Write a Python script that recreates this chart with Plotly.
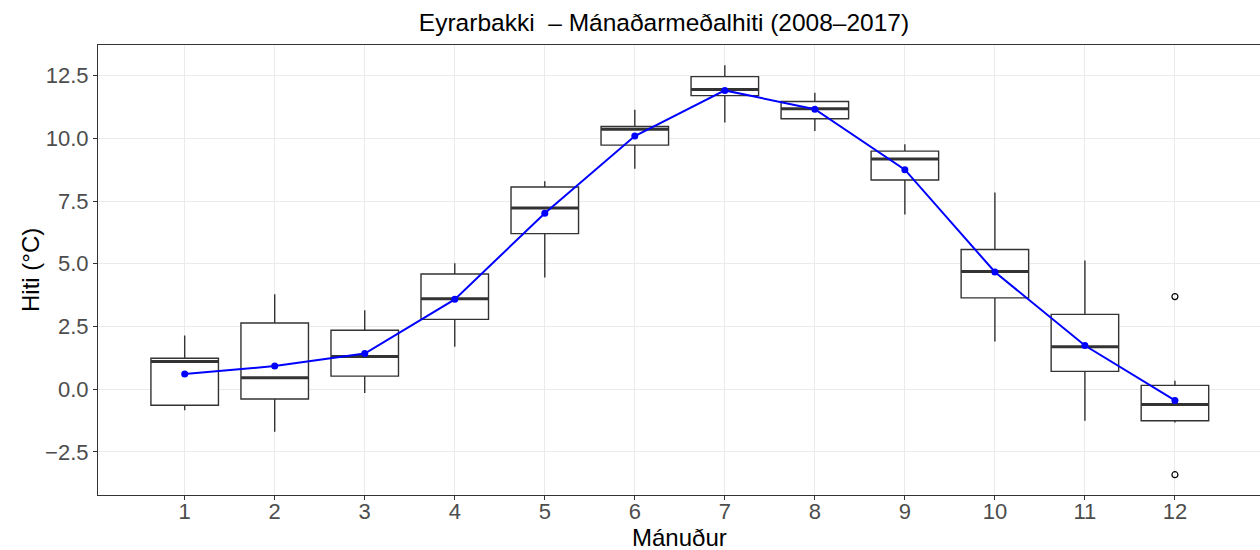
import plotly.graph_objects as go

# month numbers and box statistics
months = [1, 2, 3, 4, 5, 6, 7, 8, 9, 10, 11, 12]
q1 = [-0.64, -0.39, 0.52, 2.78, 6.20, 9.73, 11.70, 10.78, 8.34, 3.64, 0.71, -1.26]
median = [1.10, 0.45, 1.30, 3.60, 7.22, 10.36, 11.95, 11.18, 9.18, 4.69, 1.69, -0.61]
q3 = [1.23, 2.64, 2.35, 4.59, 8.06, 10.47, 12.46, 11.47, 9.49, 5.57, 2.98, 0.15]
low = [-0.84, -1.70, -0.15, 1.69, 4.45, 8.79, 10.63, 10.29, 6.96, 1.90, -1.26, -1.33]
high = [2.14, 3.78, 3.15, 5.02, 8.29, 11.14, 12.91, 11.82, 9.76, 7.84, 5.13, 0.33]
means = [0.60, 0.92, 1.42, 3.58, 7.01, 10.09, 11.91, 11.16, 8.75, 4.67, 1.74, -0.45]

out_month = [12, 12]
out_value = [3.69, -3.41]

yticks = [-2.5, 0.0, 2.5, 5.0, 7.5, 10.0, 12.5]

font = "Liberation Sans, Arial, sans-serif"
dark = "#333333"

fig = go.Figure()

fig.add_trace(go.Box(
    x=months, q1=q1, median=median, q3=q3, lowerfence=low, upperfence=high,
    width=0.75, whiskerwidth=0, boxpoints=False,
    fillcolor="white", line=dict(color=dark, width=1.4), showlegend=False))

# thicker median bars like ggplot (line-ew spans 2.8 * size/2)
fig.add_trace(go.Scatter(
    x=months, y=median, mode="markers", showlegend=False, hoverinfo="skip",
    marker=dict(symbol="line-ew", size=48, line=dict(color=dark, width=3))))

fig.add_trace(go.Scatter(
    x=out_month, y=out_value, mode="markers", showlegend=False,
    marker=dict(symbol="circle-open", size=6, color="black", line=dict(width=1.2))))

fig.add_trace(go.Scatter(
    x=months, y=means, mode="lines+markers", showlegend=False,
    line=dict(color="#0000FF", width=2), marker=dict(color="#0000FF", size=7)))

fig.update_layout(
    width=1260, height=550,
    margin=dict(l=98, r=0, t=45, b=55, autoexpand=False),
    paper_bgcolor="white", plot_bgcolor="white",
    font=dict(family=font),
    title=dict(text="Eyrarbakki  – Mánaðarmeðalhiti (2008–2017)",
               font=dict(size=24.5, color="black"), automargin=False,
               xref="container", x=664 / 1260, xanchor="center",
               yref="container", y=1 - 22 / 550, yanchor="middle"),
    annotations=[
        dict(text="Mánuður", xref="paper", x=0.5, yref="paper", y=-42 / 450,
             xanchor="center", yanchor="middle", showarrow=False,
             font=dict(size=24, color="black")),
        dict(text="Hiti (°C)", xref="paper", x=-68 / 1162, yref="paper", y=0.5,
             xanchor="center", yanchor="middle", textangle=-90, showarrow=False,
             font=dict(size=24, color="black")),
    ],
)

fig.update_xaxes(
    range=[0.037, 12.945], tickvals=months, ticktext=[str(m) for m in months],
    showgrid=True, gridcolor="#EBEBEB", gridwidth=1.1, zeroline=False, automargin=False,
    showline=True, linecolor=dark, linewidth=1.1, mirror=True,
    ticks="outside", ticklen=4, tickcolor=dark, tickwidth=1.1,
    ticklabelstandoff=-7,
    tickfont=dict(size=22, color="#4D4D4D"),
)
fig.update_yaxes(
    range=[-4.22, 13.72], tickvals=yticks, tickformat=".1f",
    showgrid=True, gridcolor="#EBEBEB", gridwidth=1.1, zeroline=False, automargin=False,
    showline=True, linecolor=dark, linewidth=1.1,
    ticks="outside", ticklen=4, tickcolor=dark, tickwidth=1.1,
    tickfont=dict(size=22, color="#4D4D4D"),
)

# drop the default page margin so the figure sits at the window's corner
fig.write_html("out.html", config={"displayModeBar": False},
               post_script="document.body.style.margin='0';")
